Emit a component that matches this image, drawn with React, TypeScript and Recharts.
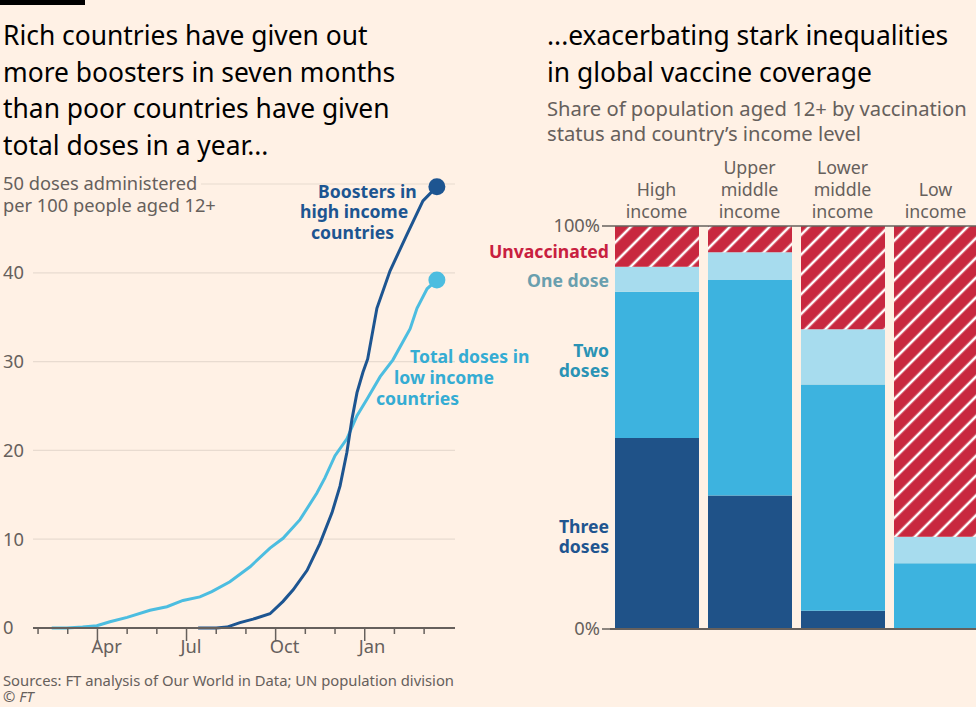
import React from 'react';
import {
  LineChart,
  Line,
  XAxis,
  YAxis,
  CartesianGrid,
  BarChart,
  Bar,
  ReferenceLine,
} from 'recharts';

// ---------- data: left chart (month index, 0 = Jan 2021) ----------
const monthTicks = [1, 2, 3, 4, 5, 6, 7, 8, 9, 10, 11, 12, 13, 14];
const majorMonthLabels: Record<number, string> = { 3: 'Apr', 6: 'Jul', 9: 'Oct', 12: 'Jan' };
const yTicks = [0, 10, 20, 30, 40, 50];

const lowIncomeMonths = [
  1.46, 1.97, 2.5, 2.98, 3.42, 4.0, 4.77, 5.34, 5.88, 6.45, 6.85, 7.46, 8.14, 8.81, 9.25,
  9.82, 10.39, 10.66, 11.0, 11.4, 11.74, 12.08, 12.52, 12.95, 13.53, 13.76, 14.1, 14.43,
];
const lowIncomeTotalDoses = [
  0, 0, 0.1, 0.25, 0.7, 1.2, 2.0, 2.4, 3.1, 3.5, 4.1, 5.2, 6.9, 9.0, 10.1,
  12.2, 15.2, 16.9, 19.4, 21.3, 23.9, 25.8, 28.3, 30.2, 33.7, 36.0, 38.2, 39.2,
];

const boosterMonths = [
  6.39, 7.0, 7.36, 7.8, 8.24, 8.81, 9.25, 9.59, 10.06, 10.49, 10.9, 11.17, 11.4, 11.57,
  11.74, 11.94, 12.1, 12.41, 12.85, 13.42, 13.96, 14.43,
];
const boosterHighIncome = [
  0, 0, 0.1, 0.6, 1.0, 1.6, 3.0, 4.3, 6.5, 9.5, 13.0, 16.0, 19.8, 23.5,
  26.5, 28.8, 30.3, 36.0, 40.2, 44.3, 48.1, 49.7,
];

// ---------- data: right chart ----------
const incomeGroups = [['High', 'income'], ['Upper', 'middle', 'income'], ['Lower', 'middle', 'income'], ['Low', 'income']];
const threeDoses = [47.4, 33.1, 4.5, 0];
const twoDoses = [36.3, 53.5, 56.2, 16.3];
const oneDose = [6.2, 6.9, 13.7, 6.6];
const unvaccinated = [10.1, 6.5, 25.6, 77.1];

const lowData = lowIncomeMonths.map((m, i) => ({ m, v: lowIncomeTotalDoses[i] }));
const boosterData = boosterMonths.map((m, i) => ({ m, v: boosterHighIncome[i] }));
const barData = incomeGroups.map((g, i) => ({
  name: g.join(' '),
  lines: g,
  three: threeDoses[i],
  two: twoDoses[i],
  one: oneDose[i],
  unvax: unvaccinated[i],
}));

// ---------- styles ----------
const BG = '#fff1e5';
const FONT = '"Noto Sans", Lato, sans-serif';
const GREY = '#66605c';
const DARK_BLUE = '#1d5591';
const LIGHT_BLUE = '#4cbde0';
const RED = '#c8283f';
const C_THREE = '#1f5288';
const C_TWO = '#3db3df';
const C_ONE = '#a7dcee';
const TICK_FS = 18.3;

const YTick = (props: any) => {
  const { y, payload } = props;
  if (payload.value === 50) {
    return (
      <g>
        <rect x={0} y={y - 13} width={201} height={26} fill={BG} />
        <text x={3} y={y} dy="0.35em" fill={GREY} fontSize={TICK_FS} fontFamily={FONT}>
          50 doses administered
        </text>
        <text x={3} y={y + 22} dy="0.35em" fill={GREY} fontSize={TICK_FS} fontFamily={FONT}>
          per 100 people aged 12+
        </text>
      </g>
    );
  }
  return (
    <text x={3} y={y} dy="0.35em" fill={GREY} fontSize={TICK_FS} fontFamily={FONT}>
      {payload.value}
    </text>
  );
};

const XTick = (props: any) => {
  const { x, y, payload } = props;
  const label = majorMonthLabels[payload.value];
  return (
    <g>
      <line x1={x} x2={x} y1={y} y2={y + (label ? 13 : 6)} stroke={GREY} strokeWidth={1.5} />
      {label && (
        <text x={x - 6} y={y + 25} fill={GREY} fontSize={TICK_FS} fontFamily={FONT}>
          {label}
        </text>
      )}
    </g>
  );
};

const HeaderTick = (props: any) => {
  const { x, y, index } = props;
  const lines: string[] = barData[index] ? barData[index].lines : [];
  const n = lines.length;
  return (
    <g>
      {lines.map((t, i) => (
        <text
          key={i}
          x={x}
          y={y - 8 - (n - 1 - i) * 22}
          textAnchor="middle"
          fill={GREY}
          fontSize={17.8}
          fontFamily={FONT}
        >
          {t}
        </text>
      ))}
    </g>
  );
};

const lastDot = (len: number, color: string) => (p: any) =>
  p.index === len - 1 ? (
    <circle key={p.index} cx={p.cx} cy={p.cy} r={8.5} fill={color} />
  ) : (
    <g key={p.index} />
  );

export default function App() {
  const T = { fontFamily: FONT };
  return (
    <div
      style={{
        position: 'absolute',
        left: 0,
        top: 0,
        width: 976,
        height: 707,
        overflow: 'hidden',
        background: BG,
        fontFamily: FONT,
      }}
    >
      <svg width={0} height={0} style={{ position: 'absolute' }}>
        <defs>
          <pattern id="hatch" patternUnits="userSpaceOnUse" width={14} height={14} patternTransform="rotate(45)">
            <rect width={14} height={14} fill={RED} />
            <line x1={7} y1={0} x2={7} y2={14} stroke="#ffffff" strokeWidth={2.6} />
          </pattern>
        </defs>
      </svg>

      {/* Left chart */}
      <div style={{ position: 'absolute', left: 0, top: 160 }}>
        <LineChart width={470} height={520} margin={{ top: 24, right: 15, left: 0, bottom: 0 }}>
          <CartesianGrid vertical={false} stroke="#e8dbd0" strokeWidth={1.2} />
          <XAxis
            type="number"
            dataKey="m"
            domain={[0.83, 15.04]}
            ticks={monthTicks}
            allowDataOverflow
            height={52}
            tickLine={false}
            tickSize={0}
            tickMargin={0}
            axisLine={{ stroke: GREY, strokeWidth: 1.8 }}
            tick={<XTick />}
            interval={0}
          />
          <YAxis
            type="number"
            domain={[0, 50]}
            ticks={yTicks}
            width={33}
            axisLine={false}
            tickLine={false}
            tickSize={0}
            tickMargin={0}
            tick={<YTick />}
            interval={0}
          />
          <Line
            data={lowData}
            dataKey="v"
            type="linear"
            stroke={LIGHT_BLUE}
            strokeWidth={3}
            dot={lastDot(lowData.length, LIGHT_BLUE)}
            activeDot={false}
            isAnimationActive={false}
          />
          <Line
            data={boosterData}
            dataKey="v"
            type="linear"
            stroke={DARK_BLUE}
            strokeWidth={3}
            dot={lastDot(boosterData.length, DARK_BLUE)}
            activeDot={false}
            isAnimationActive={false}
          />
        </LineChart>
      </div>

      {/* Right chart */}
      <div style={{ position: 'absolute', left: 480, top: 150 }}>
        <BarChart
          width={502}
          height={500}
          data={barData}
          margin={{ top: 0, right: 0, left: 0, bottom: 21 }}
          barSize={84}
        >
          <XAxis
            dataKey="name"
            orientation="top"
            height={76}
            tickLine={false}
            axisLine={false}
            tickSize={0}
            tickMargin={0}
            tick={<HeaderTick />}
            interval={0}
          />
          <YAxis
            type="number"
            domain={[0, 100]}
            ticks={[0, 100]}
            tickFormatter={(v: number) => `${v}%`}
            width={130}
            axisLine={false}
            tickSize={8}
            tickMargin={2}
            tickLine={{ stroke: GREY, strokeWidth: 1.5 }}
            tick={{ fill: GREY, fontSize: TICK_FS, fontFamily: FONT }}
          />
          <Bar dataKey="three" stackId="a" fill={C_THREE} isAnimationActive={false} />
          <Bar dataKey="two" stackId="a" fill={C_TWO} isAnimationActive={false} />
          <Bar dataKey="one" stackId="a" fill={C_ONE} isAnimationActive={false} />
          <Bar dataKey="unvax" stackId="a" fill="url(#hatch)" isAnimationActive={false} />
          <ReferenceLine y={100} stroke={GREY} strokeWidth={1.5} />
          <ReferenceLine y={0} stroke={GREY} strokeWidth={1.8} />
        </BarChart>
      </div>

      {/* Text overlay */}
      <svg
        width={976}
        height={707}
        style={{ position: 'absolute', left: 0, top: 0, pointerEvents: 'none' }}
      >
        <rect x={0} y={0} width={85} height={5} fill="#000" />
        <g fontSize={26.4} fill="#000" style={T}>
          <text x={3} y={45}>Rich countries have given out</text>
          <text x={3} y={82}>more boosters in seven months</text>
          <text x={3} y={118}>than poor countries have given</text>
          <text x={3} y={155}>total doses in a year...</text>
          <text x={547} y={45}>...exacerbating stark inequalities</text>
          <text x={547} y={82}>in global vaccine coverage</text>
        </g>
        <g fontSize={20.2} fill={GREY} style={T}>
          <text x={547} y={116}>Share of population aged 12+ by vaccination</text>
          <text x={547} y={141}>status and country’s income level</text>
        </g>

        <g fontSize={17.6} fontWeight={700} fill={DARK_BLUE} style={T}>
          <text x={318} y={198}>Boosters in</text>
          <text x={300} y={218}>high income</text>
          <text x={311} y={239}>countries</text>
        </g>
        <g fontSize={17.6} fontWeight={700} fill="#35acd3" style={T}>
          <text x={410} y={363}>Total doses in</text>
          <text x={394} y={384}>low income</text>
          <text x={376} y={405}>countries</text>
        </g>

        <g fontSize={17.6} fontWeight={700} textAnchor="end" style={T}>
          <text x={609} y={258} fill="#c8203f">Unvaccinated</text>
          <text x={609} y={287} fill="#6a9fae">One dose</text>
          <text x={609} y={357} fill="#2a93b5">Two</text>
          <text x={609} y={377} fill="#2a93b5">doses</text>
          <text x={609} y={533} fill="#1f5590">Three</text>
          <text x={609} y={553} fill="#1f5590">doses</text>
        </g>

        <g fontSize={14.8} fill={GREY} style={T}>
          <text x={3} y={686}>Sources: FT analysis of Our World in Data; UN population division</text>
          <text x={3} y={702}>
            © <tspan fontStyle="italic">FT</tspan>
          </text>
        </g>
      </svg>
    </div>
  );
}
